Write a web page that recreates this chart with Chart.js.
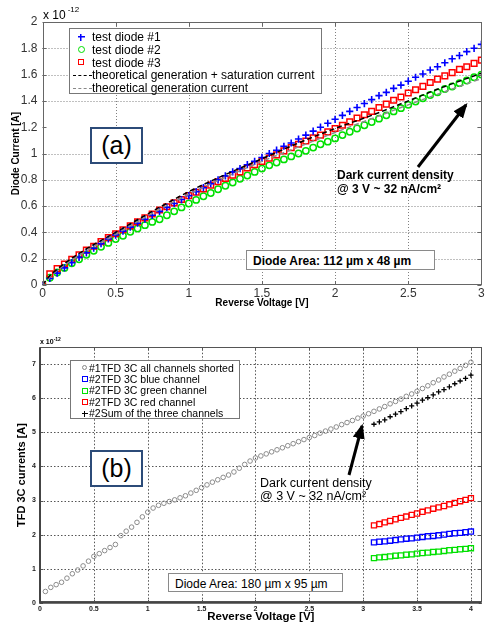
<!DOCTYPE html>
<html>
<head>
<meta charset="utf-8">
<script src="https://cdn.jsdelivr.net/npm/chart.js@4.4.1/dist/chart.umd.min.js"></script>
<style>
html,body{margin:0;padding:0;background:#fff;}
body{width:487px;height:625px;position:relative;overflow:hidden;font-family:"Liberation Sans",Arial,sans-serif;color:#000;}
canvas{position:absolute;left:0;}
#cA{top:0;}
#cB{top:315px;}
.lbl{position:absolute;white-space:nowrap;line-height:1;}
.tag{position:absolute;border:2px solid #2c4b78;background:#fff;box-sizing:border-box;font-size:25px;line-height:32px;text-align:center;}
.area{position:absolute;border:1px solid #8a8a8a;background:#fff;box-sizing:border-box;white-space:nowrap;}
.legend{position:absolute;border:1px solid #777;background:#fff;box-sizing:border-box;}
.row{position:absolute;white-space:nowrap;line-height:1;}
.mk{position:absolute;box-sizing:border-box;}
svg{position:absolute;left:0;top:0;}
</style>
</head>
<body>
<canvas id="cA" width="487" height="315"></canvas>
<canvas id="cB" width="487" height="310"></canvas>

<div class="lbl" style="left:43px;top:9px;font-size:12px">x 10<span style="font-size:8px;position:relative;top:-7px;margin-left:2px">-12</span></div>
<div class="lbl" style="left:40px;top:338px;font-size:7px;font-weight:bold">x 10<span style="font-size:5px;position:relative;top:-3px">-12</span></div>

<div id="legA" class="legend" style="left:69px;top:28px;width:253px;height:66px"></div>
<div id="legB" class="legend" style="left:70px;top:360px;width:170px;height:59px"></div>

<div class="tag" style="left:90px;top:127px;width:53px;height:37px">(a)</div>
<div class="tag" style="left:90px;top:450px;width:53px;height:37px">(b)</div>

<div class="area" style="left:246px;top:250px;width:189px;height:20px;font-size:12px;font-weight:bold;padding:3px 0 0 6px">Diode Area: 112 µm x 48 µm</div>
<div class="area" style="left:168px;top:573px;width:175px;height:19px;font-size:12px;padding:3px 0 0 6px">Diode Area: 180 µm x 95 µm</div>

<div class="lbl" style="left:337px;top:169px;font-size:12px;font-weight:bold;line-height:13.5px">Dark current density<br>@ 3 V ~ 32 nA/cm²</div>
<div class="lbl" style="left:260px;top:477px;font-size:12.5px;line-height:12.5px">Dark current density<br>@ 3 V ~ 32 nA/cm²</div>

<svg width="487" height="625">
  <defs>
    <marker id="ah" markerWidth="5" markerHeight="4" refX="4.2" refY="2" orient="auto" markerUnits="strokeWidth">
      <path d="M0,0 L5,2 L0,4 z" fill="#000"/>
    </marker>
  </defs>
  <line x1="418" y1="167" x2="466" y2="105" stroke="#000" stroke-width="3" marker-end="url(#ah)"/>
  <line x1="349" y1="475" x2="362" y2="426" stroke="#000" stroke-width="3" marker-end="url(#ah)"/>
</svg>

<script>
// ── DATA (a) ────────────────────────────────────────
const voltA = [0,0.05,0.1,0.15,0.2,0.25,0.3,0.35,0.4,0.45,
  0.5,0.55,0.6,0.65,0.7,0.75,0.8,0.85,0.9,0.95,
  1,1.05,1.1,1.15,1.2,1.25,1.3,1.35,1.4,1.45,
  1.5,1.55,1.6,1.65,1.7,1.75,1.8,1.85,1.9,1.95,
  2,2.05,2.1,2.15,2.2,2.25,2.3,2.35,2.4,2.45,
  2.5,2.55,2.6,2.65,2.7,2.75,2.8,2.85,2.9,2.95,3];
const diode1 = [0,0.05,0.09,0.13,0.17,0.21,0.245,0.28,0.315,0.35,
  0.38,0.41,0.44,0.47,0.50,0.53,0.56,0.59,0.62,0.65,
  0.68,0.71,0.74,0.77,0.80,0.83,0.86,0.885,0.915,0.94,
  0.97,1.00,1.025,1.055,1.08,1.11,1.14,1.17,1.20,1.23,
  1.26,1.29,1.32,1.35,1.38,1.41,1.44,1.465,1.495,1.52,
  1.55,1.58,1.605,1.635,1.66,1.69,1.72,1.745,1.775,1.80,1.83];
const diode2 = [0,0.055,0.095,0.13,0.165,0.195,0.23,0.26,0.29,0.32,
  0.35,0.375,0.405,0.43,0.455,0.48,0.50,0.53,0.56,0.59,
  0.62,0.647,0.675,0.70,0.728,0.755,0.78,0.808,0.833,0.86,
  0.885,0.91,0.932,0.955,0.978,1.00,1.02,1.045,1.07,1.09,
  1.115,1.14,1.165,1.19,1.215,1.24,1.265,1.29,1.32,1.345,
  1.37,1.395,1.42,1.445,1.465,1.49,1.51,1.535,1.555,1.58,1.60];
const diode3 = [0,0.085,0.125,0.16,0.195,0.23,0.265,0.295,0.33,0.36,
  0.39,0.42,0.45,0.48,0.51,0.54,0.57,0.595,0.625,0.65,
  0.68,0.705,0.73,0.76,0.785,0.81,0.835,0.86,0.89,0.915,
  0.94,0.965,0.99,1.02,1.045,1.07,1.095,1.12,1.14,1.165,
  1.19,1.215,1.24,1.27,1.295,1.32,1.35,1.375,1.405,1.43,
  1.46,1.485,1.51,1.54,1.565,1.59,1.615,1.64,1.66,1.685,1.71];
const voltTheory = [0,0.05,0.1,0.25,0.5,0.75,1,1.25,1.5,1.75,2,2.25,2.5,2.75,3];
const genSat = [0,0.07,0.12,0.24,0.40,0.56,0.71,0.84,0.96,1.08,1.19,1.29,1.40,1.51,1.61];
const genOnly = [0,0.06,0.11,0.225,0.385,0.545,0.69,0.82,0.94,1.05,1.16,1.265,1.37,1.47,1.57];
const legendA = ['test diode #1','test diode #2','test diode #3',
  'theoretical generation + saturation current','theoretical generation current'];

// ── DATA (b) ────────────────────────────────────────
const voltB = [0.05,0.1,0.15,0.2,0.25,0.3,0.35,0.4,0.45,0.5,
  0.55,0.6,0.65,0.7,0.75,0.8,0.85,0.9,0.95,1,
  1.05,1.1,1.15,1.2,1.25,1.3,1.35,1.4,1.45,1.5,
  1.55,1.6,1.65,1.7,1.75,1.8,1.85,1.9,1.95,2,
  2.05,2.1,2.15,2.2,2.25,2.3,2.35,2.4,2.45,2.5,
  2.55,2.6,2.65,2.7,2.75,2.8,2.85,2.9,2.95,3,
  3.05,3.1,3.15,3.2,3.25,3.3,3.35,3.4,3.45,3.5,
  3.55,3.6,3.65,3.7,3.75,3.8,3.85,3.9,3.95,4];
const shorted = [0.33,0.45,0.53,0.60,0.72,0.85,0.96,1.08,1.22,1.36,
  1.44,1.53,1.62,1.71,1.97,2.10,2.22,2.36,2.52,2.66,
  2.78,2.86,2.92,2.97,3.02,3.08,3.14,3.22,3.30,3.38,
  3.46,3.54,3.61,3.68,3.75,3.84,3.95,4.06,4.16,4.25,
  4.31,4.37,4.43,4.49,4.55,4.61,4.67,4.73,4.79,4.85,
  4.91,4.98,5.04,5.10,5.16,5.23,5.29,5.35,5.42,5.48,
  5.55,5.62,5.69,5.76,5.84,5.91,5.98,6.06,6.13,6.21,
  6.29,6.37,6.46,6.54,6.63,6.71,6.80,6.88,6.97,7.06];
const voltRGB = [3.1,3.15,3.2,3.25,3.3,3.35,3.4,3.45,3.5,3.55,3.6,3.65,3.7,3.75,3.8,3.85,3.9,3.95,4];
const blueCh = [1.77,1.79,1.80,1.82,1.84,1.86,1.88,1.89,1.91,1.93,1.95,1.96,1.98,2.00,2.02,2.04,2.05,2.07,2.09];
const greenCh = [1.31,1.33,1.34,1.36,1.38,1.39,1.41,1.42,1.44,1.46,1.47,1.49,1.50,1.52,1.54,1.55,1.57,1.58,1.60];
const redCh = [2.27,2.31,2.36,2.40,2.45,2.49,2.53,2.58,2.62,2.67,2.71,2.76,2.80,2.84,2.89,2.93,2.98,3.02,3.07];
const sumCh = [5.24,5.31,5.37,5.46,5.54,5.61,5.70,5.78,5.86,5.95,6.02,6.10,6.19,6.26,6.34,6.43,6.51,6.59,6.68];
const legendB = ['#1TFD 3C all channels shorted','#2TFD 3C blue channel','#2TFD 3C green channel',
  '#2TFD 3C red channel','#2Sum of the three channels'];

const xy = (xs, ys) => xs.map((x, i) => ({x, y: ys[i]}));

// ── LEGENDS ─────────────────────────────────────────
function crossMk(col, s, lw) {
  return `background:linear-gradient(${col},${col}) center/100% ${lw}px no-repeat,linear-gradient(${col},${col}) center/${lw}px 100% no-repeat;width:${s}px;height:${s}px`;
}
const mkA = [
  crossMk('#0000ff', 7, 1.5),
  'border:1.5px solid #00e000;border-radius:50%;width:7px;height:7px',
  'border:1.5px solid #ff0000;width:6px;height:6px',
  'border-top:1.5px dashed #000;width:19px;height:0',
  'border-top:1.5px dashed #888;width:19px;height:0'
];
document.getElementById('legA').innerHTML = legendA.map((t, i) => {
  const cy = 8 + i * 12.8;
  const line = i > 2;
  const left = line ? 3 : 11 - 3.5;
  const top = line ? cy : cy - 3.5;
  return `<div class="mk" style="left:${left}px;top:${top}px;${mkA[i]}"></div>
    <div class="row" style="left:22px;top:${cy - 6}px;font-size:12px">${t}</div>`;
}).join('');

const mkB = [
  'border:1px solid #888;border-radius:50%;width:5px;height:5px',
  'border:1.5px solid #0000ff;width:6px;height:6px',
  'border:1.5px solid #00e000;width:6px;height:6px',
  'border:1.5px solid #ff0000;width:6px;height:6px',
  crossMk('#000', 6, 1.3)
];
document.getElementById('legB').innerHTML = legendB.map((t, i) => {
  const cy = 7 + i * 11.4;
  return `<div class="mk" style="left:11px;top:${cy - 3}px;${mkB[i]}"></div>
    <div class="row" style="left:18px;top:${cy - 5.5}px;font-size:10.5px">${t}</div>`;
}).join('');

// ── FRAME PLUGIN ────────────────────────────────────
// dotted matlab style grid + box + inner ticks
const framePlugin = {
  id: 'frame',
  beforeDatasetsDraw(chart, args, o) {
    const {ctx, chartArea: a, scales: {x, y}} = chart;
    ctx.save();
    ctx.strokeStyle = o.grid;
    ctx.lineWidth = 1;
    ctx.setLineDash(o.dash);
    ctx.beginPath();
    x.ticks.forEach(t => {
      const px = Math.round(x.getPixelForValue(t.value)) + 0.5;
      if (px < a.left + 2 || px > a.right - 2) return;
      ctx.moveTo(px, a.bottom); ctx.lineTo(px, a.top);
    });
    y.ticks.forEach(t => {
      if (o.skipY && o.skipY.some(v => Math.abs(v - t.value) < 1e-6)) return;
      const py = Math.round(y.getPixelForValue(t.value)) + 0.5;
      if (py < a.top + 2 || py > a.bottom - 2) return;
      ctx.moveTo(a.left, py); ctx.lineTo(a.right, py);
    });
    ctx.stroke();
    ctx.restore();
  },
  afterDatasetsDraw(chart, args, o) {
    const {ctx, chartArea: a, scales: {x, y}} = chart;
    ctx.save();
    ctx.setLineDash([]);
    ctx.strokeStyle = o.color;
    ctx.lineWidth = 1;
    ctx.beginPath();
    x.ticks.forEach(t => {
      const px = Math.round(x.getPixelForValue(t.value)) + 0.5;
      ctx.moveTo(px, a.bottom); ctx.lineTo(px, a.bottom - o.tick);
      ctx.moveTo(px, a.top); ctx.lineTo(px, a.top + o.tick);
    });
    y.ticks.forEach(t => {
      const py = Math.round(y.getPixelForValue(t.value)) + 0.5;
      ctx.moveTo(a.left, py); ctx.lineTo(a.left + o.tick, py);
      ctx.moveTo(a.right, py); ctx.lineTo(a.right - o.tick, py);
    });
    ctx.stroke();
    ctx.strokeRect(Math.round(a.left) + 0.5, Math.round(a.top) + 0.5,
      Math.round(a.width) - 1, Math.round(a.height) - 1);
    if (o.axisWidth) {
      ctx.lineWidth = o.axisWidth;
      ctx.strokeStyle = o.axisColor;
      ctx.beginPath();
      ctx.moveTo(a.left, a.top); ctx.lineTo(a.left, a.bottom); ctx.lineTo(a.right, a.bottom);
      ctx.stroke();
    }
    ctx.restore();
  }
};

Chart.defaults.font.family = '"Liberation Sans", Arial, sans-serif';
Chart.defaults.color = '#222';

const fmt = v => String(+v.toFixed(2));

function axes(c) {
  return {
    x: {
      type: 'linear', min: c.xmin, max: c.xmax,
      grid: {display: false, drawTicks: false},
      border: {display: false},
      ticks: {stepSize: c.xstep, includeBounds: false, padding: c.xpad, font: c.tickFont, color: c.tickColor, maxRotation: 0, callback: fmt},
      title: {display: true, text: 'Reverse Voltage [V]', font: c.xTitleFont, color: '#000', padding: {top: 0, bottom: c.xTitlePad}},
      afterFit: s => { s.height = c.xh; s.paddingLeft = 0; s.paddingRight = 0; }
    },
    y: {
      type: 'linear', min: 0, max: c.ymax,
      grid: {display: false, drawTicks: false},
      border: {display: false},
      ticks: {stepSize: c.ystep, includeBounds: false, padding: c.ypad, font: c.tickFont, color: c.tickColor, callback: fmt},
      title: {display: true, text: c.ytitle, font: c.yTitleFont, color: '#000', padding: {top: c.yTitlePad, bottom: 0}},
      afterFit: s => { s.width = c.yw; s.paddingTop = 0; s.paddingBottom = 0; }
    }
  };
}

// ── CHART (a) ───────────────────────────────────────
new Chart(document.getElementById('cA'), {
  type: 'scatter',
  data: {
    datasets: [
      {type: 'line', data: xy(voltTheory, genSat), borderColor: '#000', borderWidth: 1.5, borderDash: [5, 3], pointRadius: 0, cubicInterpolationMode: 'monotone', fill: false},
      {type: 'line', data: xy(voltTheory, genOnly), borderColor: '#8c8c8c', borderWidth: 1.5, borderDash: [5, 3], pointRadius: 0, cubicInterpolationMode: 'monotone', fill: false},
      {data: xy(voltA, diode1), pointStyle: 'cross', pointRadius: 3.6, borderColor: '#0000ff', borderWidth: 1.6},
      {data: xy(voltA, diode3), pointStyle: 'rect', pointRadius: 4, borderColor: '#ff0000', backgroundColor: 'rgba(0,0,0,0)', borderWidth: 1.5},
      {data: xy(voltA, diode2), pointStyle: 'circle', pointRadius: 3.2, borderColor: '#00e000', backgroundColor: 'rgba(0,0,0,0)', borderWidth: 1.5}
    ]
  },
  options: {
    responsive: false, animation: false, events: [],
    layout: {padding: {left: 0, right: 1, top: 22, bottom: 0}},
    plugins: {legend: {display: false}, tooltip: {enabled: false},
      frame: {color: '#666', tick: 4, grid: '#808080', dash: [1, 2], skipY: [1.2]}},
    scales: axes({
      xmin: 0, xmax: 3, xstep: 0.5, ymax: 2, ystep: 0.2,
      tickFont: {size: 12}, tickColor: '#333', xpad: 1, ypad: 5,
      xTitleFont: {size: 10, weight: 'bold'}, xTitlePad: 6, xh: 30,
      ytitle: 'Diode Current [A]', yTitleFont: {size: 10, weight: 'bold'}, yTitlePad: 10, yw: 42.5
    })
  },
  plugins: [framePlugin]
});

// ── CHART (b) ───────────────────────────────────────
new Chart(document.getElementById('cB'), {
  type: 'scatter',
  data: {
    datasets: [
      {data: xy(voltRGB, sumCh), pointStyle: 'cross', pointRadius: 2.6, borderColor: '#000', borderWidth: 1.3},
      {data: xy(voltB, shorted), pointStyle: 'circle', pointRadius: 2.3, borderColor: '#8a8a8a', backgroundColor: 'rgba(0,0,0,0)', borderWidth: 1},
      {data: xy(voltRGB, redCh), pointStyle: 'rect', pointRadius: 3.6, borderColor: '#ff0000', backgroundColor: 'rgba(0,0,0,0)', borderWidth: 1.3},
      {data: xy(voltRGB, blueCh), pointStyle: 'rect', pointRadius: 3.6, borderColor: '#0000ff', backgroundColor: 'rgba(0,0,0,0)', borderWidth: 1.3},
      {data: xy(voltRGB, greenCh), pointStyle: 'rect', pointRadius: 3.6, borderColor: '#00e000', backgroundColor: 'rgba(0,0,0,0)', borderWidth: 1.3}
    ]
  },
  options: {
    responsive: false, animation: false, events: [],
    layout: {padding: {left: 0, right: 3, top: 32.3, bottom: 0}},
    plugins: {legend: {display: false}, tooltip: {enabled: false},
      frame: {color: '#555', tick: 3, axisWidth: 2, axisColor: '#444', grid: '#555', dash: [1.5, 2]}},
    scales: axes({
      xmin: 0, xmax: 4.1, xstep: 0.5, ymax: 7.5, ystep: 1,
      tickFont: {size: 7, weight: 'bold'}, tickColor: '#222', xpad: 2, ypad: 4,
      xTitleFont: {size: 11.5, weight: 'bold'}, xTitlePad: 1, xh: 22.3,
      ytitle: 'TFD 3C currents [A]', yTitleFont: {size: 11, weight: 'bold'}, yTitlePad: 15, yw: 40
    })
  },
  plugins: [framePlugin]
});
</script>
</body>
</html>
